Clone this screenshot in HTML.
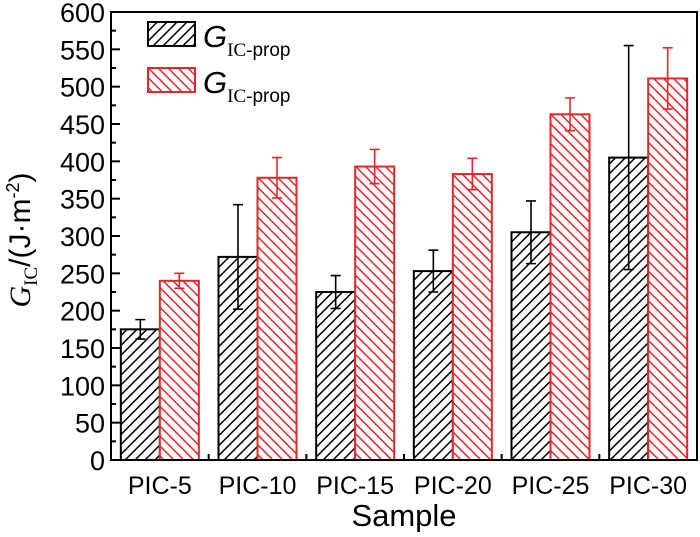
<!DOCTYPE html>
<html><head><meta charset="utf-8"><style>
body{margin:0;background:#fff}
svg text{font-family:"Liberation Sans",Arial,sans-serif}
</style></head><body>
<svg width="700" height="532" viewBox="0 0 700 532" xmlns="http://www.w3.org/2000/svg">
<defs>
<pattern id="hb" patternUnits="userSpaceOnUse" width="7" height="7" patternTransform="rotate(45)"><rect width="7" height="7" fill="#fff"/><line x1="0" y1="0" x2="0" y2="7" stroke="#000" stroke-width="3"/></pattern>
<pattern id="hr" patternUnits="userSpaceOnUse" width="7" height="7" patternTransform="rotate(-45)"><rect width="7" height="7" fill="#fff"/><line x1="0" y1="0" x2="0" y2="7" stroke="#e8262a" stroke-width="3"/></pattern>
</defs>
<g id="marks"></g>
<rect x="111" y="12" width="586" height="448" fill="none" stroke="#000" stroke-width="2"/>
<g id="axes"></g>
<text transform="translate(30,240) rotate(-90)" text-anchor="middle" font-size="30"><tspan font-family="Liberation Serif" font-style="italic">G</tspan><tspan font-family="Liberation Serif" font-size="19" dy="7">IC</tspan><tspan dy="-7">/(J·m</tspan><tspan font-size="18" dy="-11">-2</tspan><tspan dy="11">)</tspan></text>
<text x="404" y="526" text-anchor="middle" font-size="31">Sample</text>
<g>
<rect x="148" y="22" width="47" height="24" fill="url(#hb)" stroke="#000" stroke-width="2"/>
<text x="203" y="47" font-size="31"><tspan font-style="italic">G</tspan><tspan font-family="Liberation Serif" font-size="19" dy="9">IC-</tspan><tspan font-size="19">prop</tspan></text>
<rect x="148" y="68" width="47" height="24" fill="url(#hr)" stroke="#e8262a" stroke-width="2"/>
<text x="203" y="93" font-size="31"><tspan font-style="italic">G</tspan><tspan font-family="Liberation Serif" font-size="19" dy="9">IC-</tspan><tspan font-size="19">prop</tspan></text>
</g>
</svg>
<script>
const categories=["PIC-5","PIC-10","PIC-15","PIC-20","PIC-25","PIC-30"];
const blackVals=[175,272,225,253,305,405];
const blackErr=[13,70,22,28,42,150];
const redVals=[240,378,393,383,463,511];
const redErr=[10,27,23,21,22,41];
const yTicks=[0,50,100,150,200,250,300,350,400,450,500,550,600];
const NS="http://www.w3.org/2000/svg";
const X0=111,W=586,Y0=460,H=448,YMAX=600;
const y=v=>Y0-v/YMAX*H;
const gw=W/categories.length;
const cx=i=>X0+gw*(i+0.5);
const bw=39;
function mk(t,a,p){const e=document.createElementNS(NS,t);for(const k in a)e.setAttribute(k,a[k]);p.appendChild(e);return e;}
const marks=document.getElementById('marks'),axes=document.getElementById('axes');
function bar(i,v,err,left,fill,stroke,name){
  const x=left?cx(i)-bw:cx(i);
  const r=mk('rect',{x:x,y:y(v),width:bw,height:Y0-y(v),fill:fill,stroke:stroke,'stroke-width':2},marks);
  
  
  const m=x+bw/2;
  const e=mk('path',{d:`M${m},${y(v-err)}V${y(v+err)}M${m-5},${y(v+err)}H${m+5}M${m-5},${y(v-err)}H${m+5}`,stroke:stroke,'stroke-width':1.6,fill:'none'},marks);
  
  
}
categories.forEach((c,i)=>{
  bar(i,blackVals[i],blackErr[i],true,'url(#hb)','#000','bar-black');
  bar(i,redVals[i],redErr[i],false,'url(#hr)','#e8262a','bar-red');
  const t=mk('text',{x:cx(i),y:Y0+34,'text-anchor':'middle','font-size':25},axes);
  t.textContent=c;
  
  
  if(i>0){mk('line',{x1:X0+gw*i,x2:X0+gw*i,y1:Y0,y2:Y0-6,stroke:'#000','stroke-width':2},axes);}
});
yTicks.forEach((v,i)=>{
  mk('line',{x1:X0,x2:X0+9,y1:y(v),y2:y(v),stroke:'#000','stroke-width':2},axes);
  if(i<yTicks.length-1){const m=y(v+25);mk('line',{x1:X0,x2:X0+5,y1:m,y2:m,stroke:'#000','stroke-width':2},axes);}
  const t=mk('text',{x:X0-6,y:y(v)+10,'text-anchor':'end','font-size':27},axes);
  t.textContent=v;
  
  
});
</script>
</body></html>
